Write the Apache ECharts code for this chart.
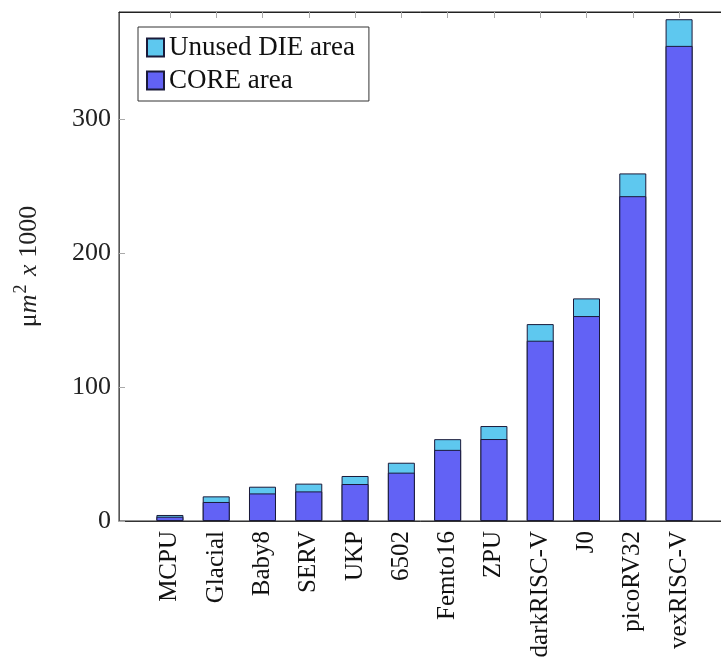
<!DOCTYPE html>
<html>
<head>
<meta charset="utf-8">
<script src="https://cdn.jsdelivr.net/npm/echarts@6/dist/echarts.min.js"></script>
<style>html,body{margin:0;padding:0;background:#fff;}#c{width:721px;height:657px;}</style>
</head>
<body>
<div id="c"></div>
<script>
var categories = ['MCPU','Glacial','Baby8','SERV','UKP','6502','Femto16','ZPU','darkRISC-V','J0','picoRV32','vexRISC-V'];
var coreArea = [3.2, 14.2, 20.6, 22.1, 27.6, 36.1, 53.1, 61.2, 134.6, 153.0, 242.5, 354.7];
var unusedArea = [1.3, 4.2, 5.0, 5.8, 6.0, 7.4, 8.0, 9.7, 12.4, 13.2, 17.0, 19.9];
var yTicks = [0, 100, 200, 300];

var idx = categories.map(function(_, i){ return i; });
var FONT = 'Liberation Serif';
var chart = echarts.init(document.getElementById('c'), null, {renderer: 'canvas'});
chart.setOption({
  animation: false,
  backgroundColor: '#fff',
  grid: {left: 119, top: 12, width: 611, height: 509, outerBoundsMode: 'none', containLabel: false,
         show: true, borderColor: '#222', borderWidth: 1, backgroundColor: 'transparent'},
  legend: {
    orient: 'vertical', left: 138, top: 27,
    data: ['Unused DIE area', 'CORE area'],
    icon: 'rect',
    backgroundColor: '#fff', borderColor: '#333', borderWidth: 1,
    padding: [7, 14, 7, 8], itemWidth: 17, itemHeight: 18, itemGap: 6,
    textStyle: {fontFamily: FONT, fontSize: 27, color: '#111'}
  },
  xAxis: [{
    type: 'value', min: -1.1, max: 12.1, position: 'bottom',
    splitLine: {show: false},
    axisLine: {show: true, onZero: false, lineStyle: {color: '#333'}},
    axisTick: {show: true, inside: true, length: 6, customValues: idx, lineStyle: {color: '#aaa'}},
    axisLabel: {show: true, rotate: 90, margin: 10, customValues: idx,
      fontFamily: FONT, fontSize: 25, color: '#111',
      formatter: function(v){ return categories[Math.round(v)]; }}
  }, {
    type: 'value', min: -1.1, max: 12.1, position: 'top',
    splitLine: {show: false},
    axisLine: {show: true, onZero: false, lineStyle: {color: '#222'}},
    axisTick: {show: true, inside: true, length: 6, customValues: idx, lineStyle: {color: '#aaa'}},
    axisLabel: {show: false}
  }],
  yAxis: [{
    type: 'value', min: 0, max: 380, position: 'left',
    splitLine: {show: false},
    axisLine: {show: true, onZero: false, lineStyle: {color: '#555'}},
    axisTick: {show: true, inside: true, length: 6, customValues: yTicks, lineStyle: {color: '#aaa'}},
    axisLabel: {show: true, margin: 8, customValues: yTicks, fontFamily: FONT, fontSize: 26, color: '#222'},
    name: '{a|μ}{i|m}{s|2}{i| x }{a|1000}',
    nameLocation: 'middle', nameRotate: 90, nameGap: 77,
    nameTextStyle: {
      fontFamily: FONT, fontSize: 26, color: '#222',
      rich: {
        a: {fontFamily: FONT, fontSize: 26, color: '#222', lineHeight: 30, verticalAlign: 'bottom'},
        i: {fontFamily: FONT, fontSize: 26, fontStyle: 'italic', color: '#222', lineHeight: 30, verticalAlign: 'bottom'},
        s: {fontFamily: FONT, fontSize: 18, color: '#222', lineHeight: 14, verticalAlign: 'top', padding: [0, 2, 0, 1]}
      }
    }
  }, {
    type: 'value', min: 0, max: 380, position: 'right',
    splitLine: {show: false},
    axisLine: {show: false, onZero: false},
    axisTick: {show: true, inside: true, length: 6, customValues: yTicks, lineStyle: {color: '#aaa'}},
    axisLabel: {show: false}
  }],
  series: [{
    name: 'Unused DIE area', type: 'bar', barWidth: 27, barGap: '-100%',
    xAxisIndex: 0, yAxisIndex: 0,
    itemStyle: {color: '#5ec8ef', borderColor: '#1a1a3a', borderWidth: 1},
    data: coreArea.map(function(v, i){ return [i, v + unusedArea[i]]; })
  }, {
    name: 'CORE area', type: 'bar', barWidth: 27, barGap: '-100%',
    xAxisIndex: 0, yAxisIndex: 0,
    itemStyle: {color: '#6262f5', borderColor: '#1a1a3a', borderWidth: 1},
    data: coreArea.map(function(v, i){ return [i, v]; })
  }]
});
</script>
</body>
</html>
